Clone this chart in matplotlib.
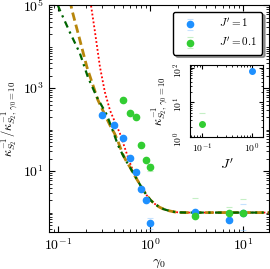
import numpy as np
import matplotlib
matplotlib.use('Agg')
import matplotlib.pyplot as plt
from matplotlib.ticker import LogLocator, NullFormatter

plt.rcParams['font.family'] = 'serif'
plt.rcParams['font.serif'] = ['cmr10']
plt.rcParams['mathtext.fontset'] = 'cm'
plt.rcParams['axes.formatter.use_mathtext'] = True
plt.rcParams['axes.unicode_minus'] = False

# measured points
gamma_J1 = [0.3, 0.4, 0.5, 0.6, 0.7, 0.8, 0.9, 1.0, 3, 7, 10]
ratio_J1 = [224, 128, 62, 20.6, 9.5, 3.7, 2.0, 0.56, 1.03, 0.66, 1.0]
err_J1 = [5, 3, 1.5, 0.5, 0.2, 0.1, 0.05, 0.16, 0.03, 0.03, 0.62]

gamma_J01 = [0.5, 0.6, 0.7, 0.8, 0.9, 1.0, 3, 7, 10]
ratio_J01 = [515, 250, 200, 42, 18, 12.5, 0.82, 0.97, 1.0]
err_J01 = [15, 8, 6, 1.5, 0.6, 2.5, 1.4, 0.39, 1.1]

# theory curves
red_gamma = [0.225, 0.25, 0.285, 0.322, 0.365, 0.384, 0.42, 0.467, 0.52, 0.571, 0.62, 0.7,
             0.8, 0.9, 1.0, 1.1, 1.25, 1.4, 1.6, 1.8, 2.0, 2.5, 5, 10, 20]
red_ratio = [1.2e5, 2.5e4, 3200, 800, 295, 224, 140, 82, 40, 21.7, 13, 7.0,
             4.1, 2.7, 2.0, 1.65, 1.35, 1.2, 1.1, 1.04, 1.01, 1.0, 1.0, 1.0, 1.0]

orange_gamma = [0.135, 0.142, 0.17, 0.206, 0.24, 0.271, 0.32, 0.365, 0.41, 0.446, 0.5, 0.55,
                0.6, 0.65, 0.7, 0.8, 0.9, 1.0, 1.1, 1.25, 1.4, 1.6, 1.8, 2.0, 2.5, 5, 10, 20]
orange_ratio = [1.3e5, 7.6e4, 1.66e4, 3200, 1150, 513, 235, 128, 80, 52, 26, 17,
                12.5, 9.0, 6.8, 4.1, 2.7, 2.0, 1.65, 1.35, 1.2, 1.1, 1.04, 1.01, 1.0, 1.0, 1.0, 1.0]

green_gamma = [0.1, 0.105, 0.135, 0.173, 0.211, 0.264, 0.339, 0.4, 0.446, 0.5, 0.55,
               0.6, 0.65, 0.7, 0.8, 0.9, 1.0, 1.1, 1.25, 1.4, 1.6, 1.8, 2.0, 2.5, 5, 10, 20]
green_ratio = [1.0e5, 7.6e4, 2.2e4, 6900, 1840, 605, 224, 83, 42, 25, 17,
               12.5, 9.0, 6.8, 4.1, 2.7, 2.0, 1.65, 1.35, 1.2, 1.1, 1.04, 1.01, 1.0, 1.0, 1.0, 1.0]

# inset
inset_J1 = [1.0]
inset_k_J1 = [82]
inset_err_J1 = [2]
inset_J01 = [0.1]
inset_k_J01 = [2.4]
inset_err_J01 = [2.6]

blue = '#1e90ff'
green = '#32cd32'
blue_err = (0.55, 0.78, 1.0, 0.5)
green_err = (0.55, 0.88, 0.55, 0.5)

fig = plt.figure(figsize=(2.7, 2.69), dpi=100)
ax = fig.add_axes([0.181, 0.1375, 0.815, 0.8435])

ax.plot(red_gamma, red_ratio, linestyle=(0, (1, 1.2)), color='red', lw=1.3, zorder=2)
ax.plot(orange_gamma, orange_ratio, linestyle=(0, (3, 1.5)), color='darkgoldenrod', lw=2, zorder=2)
ax.plot(green_gamma, green_ratio, linestyle=(0, (3, 2, 1, 2)), color='darkgreen', lw=1.6, zorder=2)

ax.errorbar(gamma_J1, ratio_J1, yerr=err_J1, fmt='o', color=blue, ms=4.5,
            ecolor=blue_err, elinewidth=0, capsize=2.5, capthick=0.8, label="$J'=1$", zorder=3)
ax.errorbar(gamma_J01, ratio_J01, yerr=err_J01, fmt='o', color=green, ms=4.5,
            ecolor=green_err, elinewidth=0, capsize=2.5, capthick=0.8, label="$J'=0.1$", zorder=3)

ax.set_xscale('log')
ax.set_yscale('log')
ax.set_xlim(0.08, 19)
ax.set_ylim(0.34, 1e5)
ax.set_yticks([1e1, 1e3, 1e5])
ax.yaxis.set_minor_locator(LogLocator(base=10, subs=np.arange(1, 10), numticks=30))
ax.yaxis.set_minor_formatter(NullFormatter())
ax.xaxis.set_minor_locator(LogLocator(base=10, subs=np.arange(2, 10), numticks=30))
ax.xaxis.set_minor_formatter(NullFormatter())
ax.tick_params(which='both', direction='in', top=True, right=True, labelsize=10)
ax.tick_params(which='major', length=4)
ax.tick_params(which='minor', length=2)
ax.set_xlabel(r'$\gamma_0$', fontsize=10)
ax.set_ylabel(r'$\kappa^{-1}_{S_2}/\kappa^{-1}_{S_2,\,\gamma_0=10}$', fontsize=9, labelpad=2)

leg = ax.legend(loc='upper right', fontsize=8, fancybox=True, shadow=True,
                framealpha=1, edgecolor='black', borderaxespad=0.6,
                handletextpad=1.6, borderpad=0.5)

ins = fig.add_axes([0.704, 0.491, 0.270, 0.268])
ins.errorbar(inset_J1, inset_k_J1, yerr=inset_err_J1, fmt='o', color=blue, ms=4,
             ecolor=blue_err, elinewidth=0, capsize=2.5, capthick=0.8)
ins.errorbar(inset_J01, inset_k_J01, yerr=inset_err_J01, fmt='o', color=green, ms=4,
             ecolor=green_err, elinewidth=0, capsize=2.5, capthick=0.8)
ins.set_xscale('log')
ins.set_yscale('log')
ins.set_xlim(0.0575, 1.66)
ins.set_ylim(1, 122)
ins.set_yticks([1, 10, 100])
ins.set_xticks([0.1, 1])
ins.yaxis.set_minor_locator(LogLocator(base=10, subs=np.arange(2, 10), numticks=30))
ins.yaxis.set_minor_formatter(NullFormatter())
ins.xaxis.set_minor_locator(LogLocator(base=10, subs=np.arange(2, 10), numticks=30))
ins.xaxis.set_minor_formatter(NullFormatter())
ins.tick_params(which='both', direction='in', top=True, right=True, labelsize=7)
ins.tick_params(which='major', length=3)
ins.tick_params(which='minor', length=1.5)
ins.tick_params(axis='y', labelrotation=90)
ins.set_xlabel("$J'$", fontsize=10, labelpad=1)
ins.set_ylabel(r'$\kappa^{-1}_{S_2,\,\gamma_0=10}$', fontsize=9, labelpad=1)

fig.savefig('out.png', dpi=100)
